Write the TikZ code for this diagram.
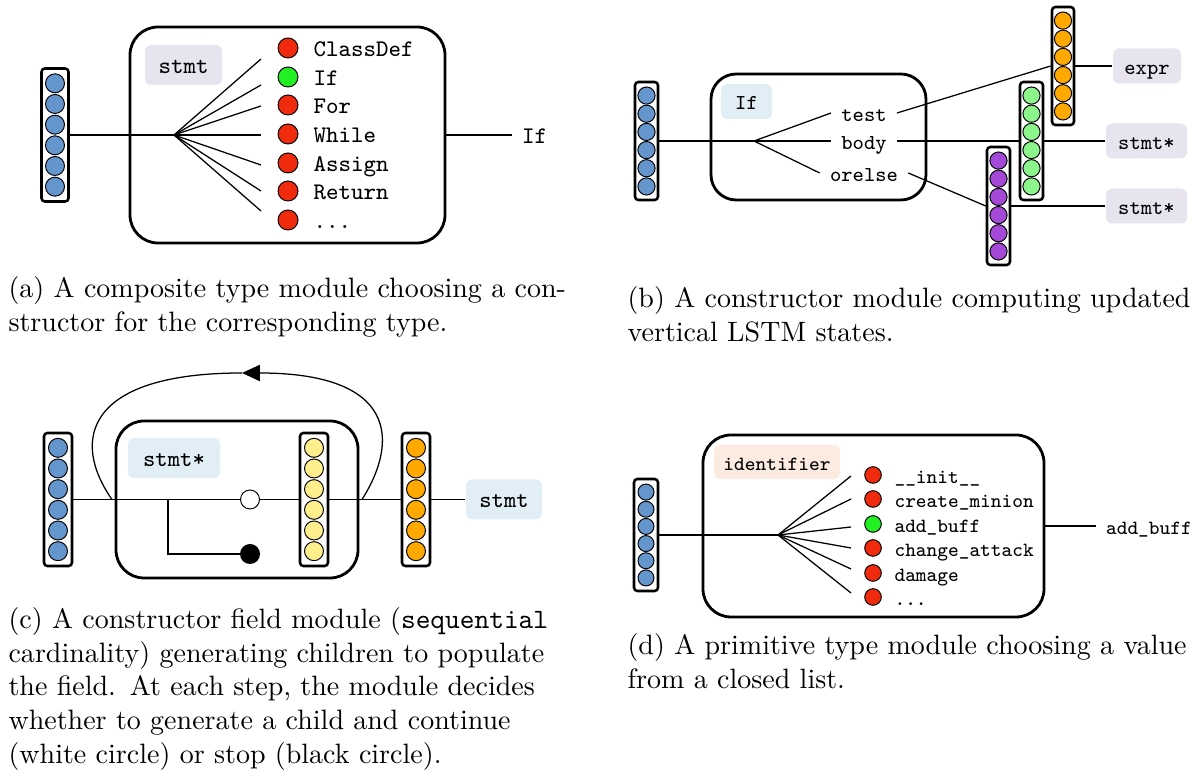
\documentclass[tikz,border=0pt]{standalone}
\usepackage{fontspec}
\usepackage{tikz}
\usetikzlibrary{positioning}
\usetikzlibrary{calc}
\usetikzlibrary{arrows.meta}

\definecolor{unitblue}{HTML}{6495CC}
\definecolor{unitred}{HTML}{F02A0C}
\definecolor{unitgreen}{HTML}{22F022}
\definecolor{unitlgreen}{HTML}{8CF58C}
\definecolor{unitorange}{HTML}{FFA900}
\definecolor{unitpurple}{HTML}{A448D8}
\definecolor{unityellow}{HTML}{FFEE8C}
\definecolor{lablav}{HTML}{E8E4EF}
\definecolor{lablue}{HTML}{E1EEF6}
\definecolor{labpeach}{HTML}{FCEBE0}

\newcommand{\pxu}{0.357pt}
\newcommand{\threedots}{...}
\newlength{\capw}
\setlength{\capw}{201pt}
\newcommand{\capline}[1]{\hbox to\capw{#1}}

\tikzset{
  module/.style={draw, line width=1pt, rounded corners=10pt},
  vecbox/.style={draw, fill=white, line width=0.9pt, rounded corners=1.2pt},
  unit/.style={circle, draw, line width=0.35pt, inner sep=0pt},
  typelab/.style={rounded corners=2pt, inner sep=0pt, text height=0.6em, text depth=0pt},
  item/.style={anchor=west, inner sep=0pt, text height=0.6em, text depth=0pt},
  field/.style={inner sep=3.5pt, text height=0.6em, text depth=0pt},
  outlab/.style={anchor=west, inner sep=3.4pt, text height=0.6em, text depth=0pt},
  wire/.style={line width=0.45pt},
  capt/.style={anchor=north west, inner sep=0pt, text width=\capw, font=\rmfamily\fontsize{10}{12}\selectfont},
}

% one vertical state vector: name, centre, width, height, colour, radius
\newcommand{\statevec}[6]{%
  \node[vecbox, minimum width=#3*\pxu, minimum height=#4*\pxu] (#1) at (#2) {};
  \foreach \cell in {0,...,5}
    \node[unit, fill=#5, minimum size=2*#6*\pxu] (#1-\cell) at ($(#1.center)+(0,{(\cell-2.5)*(#4-9)/6})$) {};
}

\begin{document}
\begin{tikzpicture}[x=0.357pt, y=-0.357pt]
        \fill[white] (0,0) rectangle (1192,776);
        \useasboundingbox (0,0) rectangle (1192,776);

        % (a) composite type module
        \begin{scope}[font=\ttfamily\fontsize{8.5}{10}\selectfont]
        	\node[module, minimum width=315*\pxu, minimum height=216*\pxu] (abox) at (287.5,135) {};
        	\node[typelab, fill=lablav, minimum width=77*\pxu, minimum height=40*\pxu] (astmt) at (183.5,65) {stmt};
        	\statevec{av}{55,135}{27}{133}{unitblue}{9.5}
        	\coordinate (afan) at (174,135);
        	\draw[wire] (av.east) -- (afan);
        	\foreach \lab/\col/\yc/\ye [count=\i] in {ClassDef/unitred/48/59, If/unitgreen/77/85, For/unitred/105/106, While/unitred/134/135, Assign/unitred/163/165, Return/unitred/191/191, \threedots/unitred/220/211} {
        		\node[unit, fill=\col, minimum size=20*\pxu] (ac\i) at (288,\yc) {};
        		\node[item] (al\i) at (313,\yc) {\lab};
        		\coordinate (ae\i) at (261,\ye);
        		\draw[wire] (afan) -- (ae\i);
        	}
        	\node[outlab] (aout) at (512,135) {If};
        	\draw[wire] (abox.east) -- (aout.west);
        \end{scope}

        % (b) constructor module
        \begin{scope}[font=\ttfamily\fontsize{7.6}{9}\selectfont]
        	\node[module, rounded corners=9pt, minimum width=215*\pxu, minimum height=126*\pxu] (bbox) at (818.5,137) {};
        	\node[typelab, fill=lablue, minimum width=51*\pxu, minimum height=35*\pxu] (bif) at (746.5,101.5) {If};
        	\statevec{bv}{646.5,141}{23}{118}{unitblue}{8.6}
        	\statevec{bo}{1063,66}{22}{118}{unitorange}{8.6}
        	\statevec{bg}{1031.5,141}{23}{118}{unitlgreen}{8.6}
        	\statevec{bp}{998.5,206}{23}{118}{unitpurple}{8.6}
        	\node[typelab, fill=lablav, minimum width=68*\pxu, minimum height=35*\pxu] (bexpr) at (1147,66) {expr};
        	\node[typelab, fill=lablav, minimum width=81*\pxu, minimum height=35*\pxu] (bstmtA) at (1146.5,141) {stmt*};
        	\node[typelab, fill=lablav, minimum width=81*\pxu, minimum height=35*\pxu] (bstmtB) at (1146.5,206) {stmt*};
        	\coordinate (bfan) at (754,141);
        	\node[field] (btest) at (864,113) {test};
        	\node[field] (bbody) at (864,141) {body};
        	\node[field] (borelse) at (864,173) {orelse};
        	\draw[wire] (bv.east) -- (bfan);
        	\foreach \f in {btest,bbody,borelse}
        		\draw[wire] (bfan) -- (\f.west);
        	\draw[wire] (btest.east) -- (bo.west);
        	\draw[wire] (bo.east) -- (bexpr.west);
        	\draw[wire] (bbody.east) -- (bg.west);
        	\draw[wire] (bg.east) -- (bstmtA.west);
        	\draw[wire] (borelse.east) -- (bp.west);
        	\draw[wire] (bp.east) -- (bstmtB.west);
        \end{scope}

        % (c) constructor field module
        \begin{scope}[font=\ttfamily\fontsize{8.3}{10}\selectfont]
        	\node[module, minimum width=242*\pxu, minimum height=157*\pxu] (cbox) at (237,499.5) {};
        	\node[typelab, fill=lablue, minimum width=92*\pxu, minimum height=40*\pxu] (cstar) at (174,458) {stmt*};
        	\statevec{cv}{58,499.5}{28}{133}{unitblue}{9.5}
        	\statevec{cy}{314,499.5}{28}{133}{unityellow}{9.5}
        	\statevec{co}{416,499.5}{28}{133}{unitorange}{9.5}
        	\node[typelab, fill=lablue, minimum width=76*\pxu, minimum height=40*\pxu] (cstmt) at (504,499.5) {stmt};
        	\node[unit, fill=white, minimum size=19*\pxu] (cgo) at (250,499.5) {};
        	\node[unit, fill=black, minimum size=19*\pxu] (cstop) at (250,554) {};
        	\coordinate (cbranch) at (168,499.5);
        	\coordinate (cloopR) at (362,499.5);
        	\coordinate (cloopT) at (242,373);
        	\coordinate (cloopL) at (112,499.5);
        	\draw[wire] (cv.east) -- (cgo.west);
        	\draw[wire] (cgo.east) -- (cy.west);
        	\draw[wire] (cy.east) -- (co.west);
        	\draw[wire] (co.east) -- (cstmt.west);
        	\draw[wire] (cbranch) |- (cstop.west);
        	\draw[wire, -{Triangle[length=6.4pt, width=5.8pt]}] (cloopR) .. controls +(38,-60) and +(153,0) .. (cloopT);
        	\draw[wire] (cloopT) .. controls +(-155,0) and +(-42,-60) .. (cloopL);
        \end{scope}

        % (d) primitive type module
        \begin{scope}[font=\ttfamily\fontsize{7.2}{9}\selectfont]
        	\node[module, minimum width=341*\pxu, minimum height=182*\pxu] (dbox) at (873.5,526) {};
        	\node[typelab, fill=labpeach, minimum width=126*\pxu, minimum height=34*\pxu] (dident) at (777,462) {identifier};
        	\statevec{dv}{646,535}{24}{112}{unitblue}{8}
        	\coordinate (dfan) at (778,535);
        	\draw[wire] (dv.east) -- (dfan);
        	\foreach \lab/\col/\yc/\ye [count=\i] in {\_\_init\_\_/unitred/475/476, create\_minion/unitred/499/499, add\_buff/unitgreen/524/527, change\_attack/unitred/548/548, damage/unitred/573/569, \threedots/unitred/597/593} {
        		\node[unit, fill=\col, minimum size=16.6*\pxu] (dc\i) at (873,\yc) {};
        		\node[item] (dl\i) at (894,\yc) {\lab};
        		\coordinate (de\i) at (851,\ye);
        		\draw[wire] (dfan) -- (de\i);
        	}
        	\node[outlab] (dout) at (1096,526) {add\_buff};
        	\draw[wire] (dbox.east) -- (dout.west);
        \end{scope}

        % captions
        \node[capt] (capa) at (8,276) {\capline{(a) A composite type module choosing a con-}\par
        	\hbox{structor for the corresponding type.}};
        \node[capt] (capb) at (627,286) {\capline{(b) A constructor module computing updated}\par
        	\hbox{vertical LSTM states.}};
        \node[capt] (capc) at (8,607) {\capline{(c) A constructor field module (\texttt{sequential}}\par
        	\capline{cardinality) generating children to populate}\par
        	\capline{the field. At each step, the module decides}\par
        	\capline{whether to generate a child and continue}\par
        	\hbox{(white circle) or stop (black circle).}};
        \node[capt] (capd) at (627,633) {\capline{(d) A primitive type module choosing a value}\par
        	\hbox{from a closed list.}};
\end{tikzpicture}
\end{document}
